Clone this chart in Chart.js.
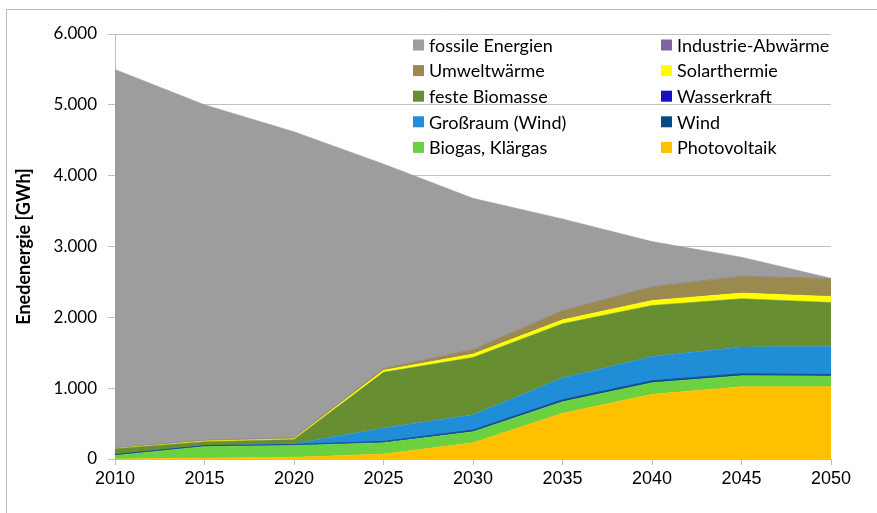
<!DOCTYPE html>
<html>
<head>
<meta charset="utf-8">
<script src="https://cdn.jsdelivr.net/npm/chart.js@4"></script>
<style>
  html, body { margin: 0; padding: 0; background: #fff; }
  #wrap { width: 877px; height: 513px; position: relative; }
</style>
</head>
<body>
<div id="wrap"><canvas id="myAreaChart" width="877" height="513"></canvas></div>
<script>
// Jahre
const years = ['2010', '2015', '2020', '2025', '2030', '2035', '2040', '2045', '2050'];

// Werte in GWh, von unten nach oben gestapelt
const photovoltaik = [0, 15, 24, 70, 230, 645, 913, 1021, 1021];
const biogas = [50, 160, 166, 160, 156, 164, 165, 155, 150];
const wind = [10, 10, 12, 15, 19, 24, 23, 24, 19];
const wasserkraft = [3, 3, 3, 3, 3, 3, 3, 3, 3];
const grossraumWind = [0, 0, 10, 188, 216, 306, 343, 377, 396];
const festeBiomasse = [80, 57, 60, 787, 810, 767, 721, 682, 621];
const solarthermie = [5, 8, 10, 30, 47, 56, 70, 80, 85];
const umweltwaerme = [5, 8, 10, 20, 61, 127, 189, 235, 249];
const industrieAbwaerme = [3, 3, 3, 3, 3, 3, 3, 3, 3];
const fossil = [5344, 4736, 4322, 2889, 2135, 1295, 640, 270, 5];

const yTicks = [0, 1000, 2000, 3000, 4000, 5000, 6000];

// Legende (Reihenfolge wie im Bild, zeilenweise)
const legendItems = [
    ['fossile Energien', '#9d9d9d'], ['Industrie-Abwärme', '#8064a2'],
    ['Umweltwärme', '#9a8a50'], ['Solarthermie', '#ffff00'],
    ['feste Biomasse', '#678f32'], ['Wasserkraft', '#1a0fc4'],
    ['Großraum (Wind)', '#208dd7'], ['Wind', '#044a84'],
    ['Biogas, Klärgas', '#6ad241'], ['Photovoltaik', '#ffc000']
];

function ds(label, data, color, fill) {
    return {
        label: label,
        data: data,
        backgroundColor: color,
        borderColor: color,
        borderWidth: 0.5,
        pointRadius: 0,
        fill: fill,
        tension: 0
    };
}

const datasets = [
    ds('Photovoltaik', photovoltaik, '#ffc000', 'origin'),
    ds('Biogas, Klärgas', biogas, '#6ad241', '-1'),
    ds('Wind', wind, '#044a84', '-1'),
    ds('Wasserkraft', wasserkraft, '#1a0fc4', '-1'),
    ds('Großraum (Wind)', grossraumWind, '#208dd7', '-1'),
    ds('feste Biomasse', festeBiomasse, '#678f32', '-1'),
    ds('Solarthermie', solarthermie, '#ffff00', '-1'),
    ds('Umweltwärme', umweltwaerme, '#9a8a50', '-1'),
    ds('Industrie-Abwärme', industrieAbwaerme, '#8064a2', '-1'),
    ds('fossile Energien', fossil, '#9d9d9d', '-1')
];

const frameAndLegend = {
    id: 'frameAndLegend',
    beforeDraw(chart) {
        const c = chart.ctx;
        c.save();
        c.fillStyle = '#fff';
        c.fillRect(0, 0, chart.width, chart.height);
        c.strokeStyle = '#bdbdbd';
        c.lineWidth = 1;
        c.beginPath();
        c.moveTo(6.5, chart.height);
        c.lineTo(6.5, 9.5);
        c.lineTo(chart.width, 9.5);
        c.stroke();
        c.restore();
    },
    afterDraw(chart) {
        const c = chart.ctx;
        c.save();
        c.font = '18px Lato';
        c.textBaseline = 'middle';
        const colX = [413, 661];
        const rowY = 45;
        const rowH = 25.6;
        legendItems.forEach((item, i) => {
            const x = colX[i % 2];
            const y = rowY + Math.floor(i / 2) * rowH;
            c.fillStyle = item[1];
            c.fillRect(x, y - 5.5, 11, 11);
            c.fillStyle = '#000';
            c.fillText(item[0], x + 16, y + 1);
        });
        c.restore();
    }
};

var ctx = document.getElementById('myAreaChart');
var myAreaChart = new Chart(ctx, {
    type: 'line',
    data: {
        labels: years,
        datasets: datasets
    },
    options: {
        responsive: false,
        animation: false,
        layout: { padding: { left: 0, right: 46, top: 34, bottom: 0 } },
        plugins: {
            legend: { display: false },
            tooltip: { enabled: false },
            filler: { propagate: false }
        },
        scales: {
            x: {
                offset: false,
                grid: {
                    display: true,
                    drawOnChartArea: false,
                    drawTicks: true,
                    tickLength: 6,
                    color: '#bdbdbd'
                },
                border: { color: '#bdbdbd' },
                ticks: {
                    color: '#000',
                    font: { family: 'Liberation Sans', size: 18 },
                    padding: 3,
                    maxRotation: 0
                },
                afterFit(scale) { scale.height = 54; }
            },
            y: {
                stacked: true,
                min: 0,
                max: 6000,
                afterBuildTicks(scale) {
                    scale.ticks = yTicks.map(v => ({ value: v }));
                },
                grid: {
                    color: '#c0c0c0',
                    tickLength: 7
                },
                border: { color: '#bdbdbd' },
                ticks: {
                    color: '#000',
                    font: { family: 'Lato', size: 17 },
                    padding: 11,
                    callback: v => v.toLocaleString('de-DE')
                },
                title: {
                    display: true,
                    text: 'Enedenergie [GWh]',
                    color: '#000',
                    font: { family: 'Lato', size: 18, weight: 'bold' },
                    padding: { top: 13, bottom: 0 }
                },
                afterFit(scale) { scale.width = 115; }
            }
        }
    },
    plugins: [frameAndLegend]
});
</script>
</body>
</html>
